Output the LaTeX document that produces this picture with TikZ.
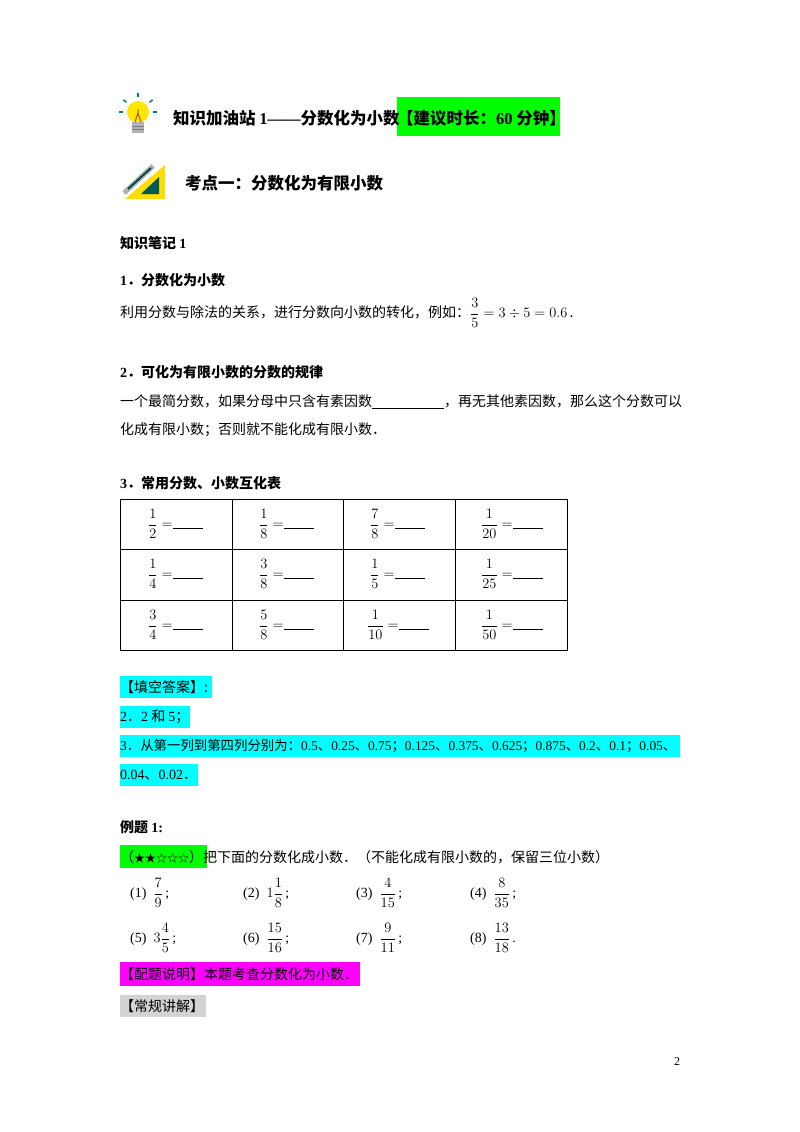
\documentclass[tikz,border=0pt]{standalone}
\usepackage{fontspec}
\usetikzlibrary{calc}
\setmainfont{Liberation Serif}
\newfontfamily\cjk{Noto Sans CJK SC}
\newcommand\cjkb{\cjk\bfseries}
\newcommand\nm[1]{{\rmfamily #1}}
\newcommand\df[2]{{\displaystyle\frac{#1}{#2}}}
\definecolor{hcyan}{RGB}{0,255,255}
\definecolor{hmag}{RGB}{255,0,255}
\definecolor{hgreen}{RGB}{0,255,0}
\definecolor{hgray}{RGB}{211,211,211}
\begin{document}
\begin{tikzpicture}[x=1pt,y=-1pt,
  t/.style={anchor=west,inner sep=0pt,font=\fontsize{14}{17}\selectfont\cjk},
  tb/.style={anchor=west,inner sep=0pt,font=\fontsize{14}{17}\selectfont\cjkb},
  th/.style={anchor=west,inner sep=0pt,font=\fontsize{16.5}{19}\selectfont\cjkb},
  cell/.style={anchor=west,inner sep=0pt,font=\fontsize{14}{16}\selectfont},
  hl/.style={inner sep=0pt}]
\useasboundingbox[fill=white] (0,0) rectangle (800,1132);
% bulb icon
\fill[yellow!90!orange] (138,112) circle (11);
\fill[gray!60] (132,122) rectangle (144,133);
\draw[gray,line width=0.8pt] (132,126)--(144,126) (132,129)--(144,129);
\draw[orange!70!black,line width=1pt] (135,122)--(138,113)--(141,122) (138,113)--(138,109);
\foreach \a in {0,40,90,140,180}{\draw[teal,line width=1.5pt] ($(138,112)+(\a:-15)$) -- ($(138,112)+(\a:-19)$);}
% pencil icon
\fill[yellow!80!orange] (125,199)--(165,199)--(165,165)--cycle;
\fill[teal!70!black] (141,194)--(159,194)--(159,177)--cycle;
\draw[line width=5pt,gray!60] (124,193)--(153,166);
\draw[line width=2pt,teal!60!black] (128,189)--(151,168);
% titles
\node[hl,fill=hgreen,minimum width=163,minimum height=39,anchor=north west] (gb) at (397,97) {};
\node[th] (h1) at (173,118) {知识加油站 \nm{\bfseries 1——}分数化为小数};
\node[th] (h1b) at (397,118) {【建议时长：\nm{\bfseries 60} 分钟】};
\node[th] (h2) at (185,183) {考点一：分数化为有限小数};
\node[tb] (n1) at (120,243) {知识笔记 \nm{\bfseries 1}};
\node[tb] (s1) at (120,280) {\nm{\bfseries 1}．分数化为小数};
\node[t] (p1) at (120,313) {利用分数与除法的关系，进行分数向小数的转化，例如：\nm{$\df35=3\div5=0.6$}\,.};
\node[tb] (s2) at (120,372) {\nm{\bfseries 2}．可化为有限小数的分数的规律};
\node[t] (p2) at (120,402) {一个最简分数，如果分母中只含有素因数\rule[-2pt]{72pt}{0.5pt}，再无其他素因数，那么这个分数可以};
\node[t] (p3) at (120,430) {化成有限小数；否则就不能化成有限小数．};
\node[tb] (s3) at (120,483) {\nm{\bfseries 3}．常用分数、小数互化表};
% table
\draw[line width=0.6pt] (120,499) rectangle (567,650);
\foreach \y in {549,600}{\draw[line width=0.6pt] (120,\y)--(567,\y);}
\foreach \x in {232,343,455}{\draw[line width=0.6pt] (\x,499)--(\x,650);}
\newcommand\blk{\rule[0pt]{30pt}{0.5pt}}
\node[cell] (c11) at (148,524) {$\df12=$\blk};
\node[cell] (c12) at (259,524) {$\df18=$\blk};
\node[cell] (c13) at (370,524) {$\df78=$\blk};
\node[cell] (c14) at (481,524) {$\df1{20}=$\blk};
\node[cell] (c21) at (148,574) {$\df14=$\blk};
\node[cell] (c22) at (259,574) {$\df38=$\blk};
\node[cell] (c23) at (370,574) {$\df15=$\blk};
\node[cell] (c24) at (481,574) {$\df1{25}=$\blk};
\node[cell] (c31) at (148,625) {$\df34=$\blk};
\node[cell] (c32) at (259,625) {$\df58=$\blk};
\node[cell] (c33) at (367,625) {$\df1{10}=$\blk};
\node[cell] (c34) at (481,625) {$\df1{50}=$\blk};
% answers
\fill[hcyan] (120,676) rectangle (212,698);
\node[t] (a0) at (120,687) {【填空答案】:};
\fill[hcyan] (120,706) rectangle (190,728);
\node[t] (a1) at (120,717) {\nm{2}．\nm{2} 和 \nm{5}；};
\fill[hcyan] (120,735) rectangle (680,757);
\node[t,font=\fontsize{13.4}{16}\selectfont\cjk] (a2) at (120,746) {\nm{3}．从第一列到第四列分别为：\nm{0.5}、\nm{0.25}、\nm{0.75}；\nm{0.125}、\nm{0.375}、\nm{0.625}；\nm{0.875}、\nm{0.2}、\nm{0.1}；\nm{0.05}、};
\fill[hcyan] (120,764) rectangle (198,786);
\node[t] (a3) at (120,775) {\nm{0.04}、\nm{0.02}．};
% example
\node[tb] (e1) at (120,827) {例题 \nm{\bfseries 1:}};
\fill[hgreen] (120,845) rectangle (207,868);
\node[t] (e2) at (120,857) {（{\fontsize{11}{13}\selectfont ★★☆☆☆}）把下面的分数化成小数．（不能化成有限小数的，保留三位小数）};
\node[cell] (q1) at (130,893) {(1)\enspace $\df79$\,;};
\node[cell] (q2) at (243,893) {(2)\enspace $1\df18$\,;};
\node[cell] (q3) at (356,893) {(3)\enspace $\df4{15}$\,;};
\node[cell] (q4) at (470,893) {(4)\enspace $\df8{35}$\,;};
\node[cell] (q5) at (130,938) {(5)\enspace $3\df45$\,;};
\node[cell] (q6) at (243,938) {(6)\enspace $\df{15}{16}$\,;};
\node[cell] (q7) at (356,938) {(7)\enspace $\df9{11}$\,;};
\node[cell] (q8) at (470,938) {(8)\enspace $\df{13}{18}$\,.};
\fill[hmag] (120,962) rectangle (360,986);
\node[t] (m1) at (120,974) {【配题说明】本题考查分数化为小数．};
\fill[hgray] (120,995) rectangle (206,1017);
\node[t] (g1) at (120,1006) {【常规讲解】};
\node[cell,font=\fontsize{12}{14}\selectfont] (pg) at (674,1062) {2};
\end{tikzpicture}
\end{document}
